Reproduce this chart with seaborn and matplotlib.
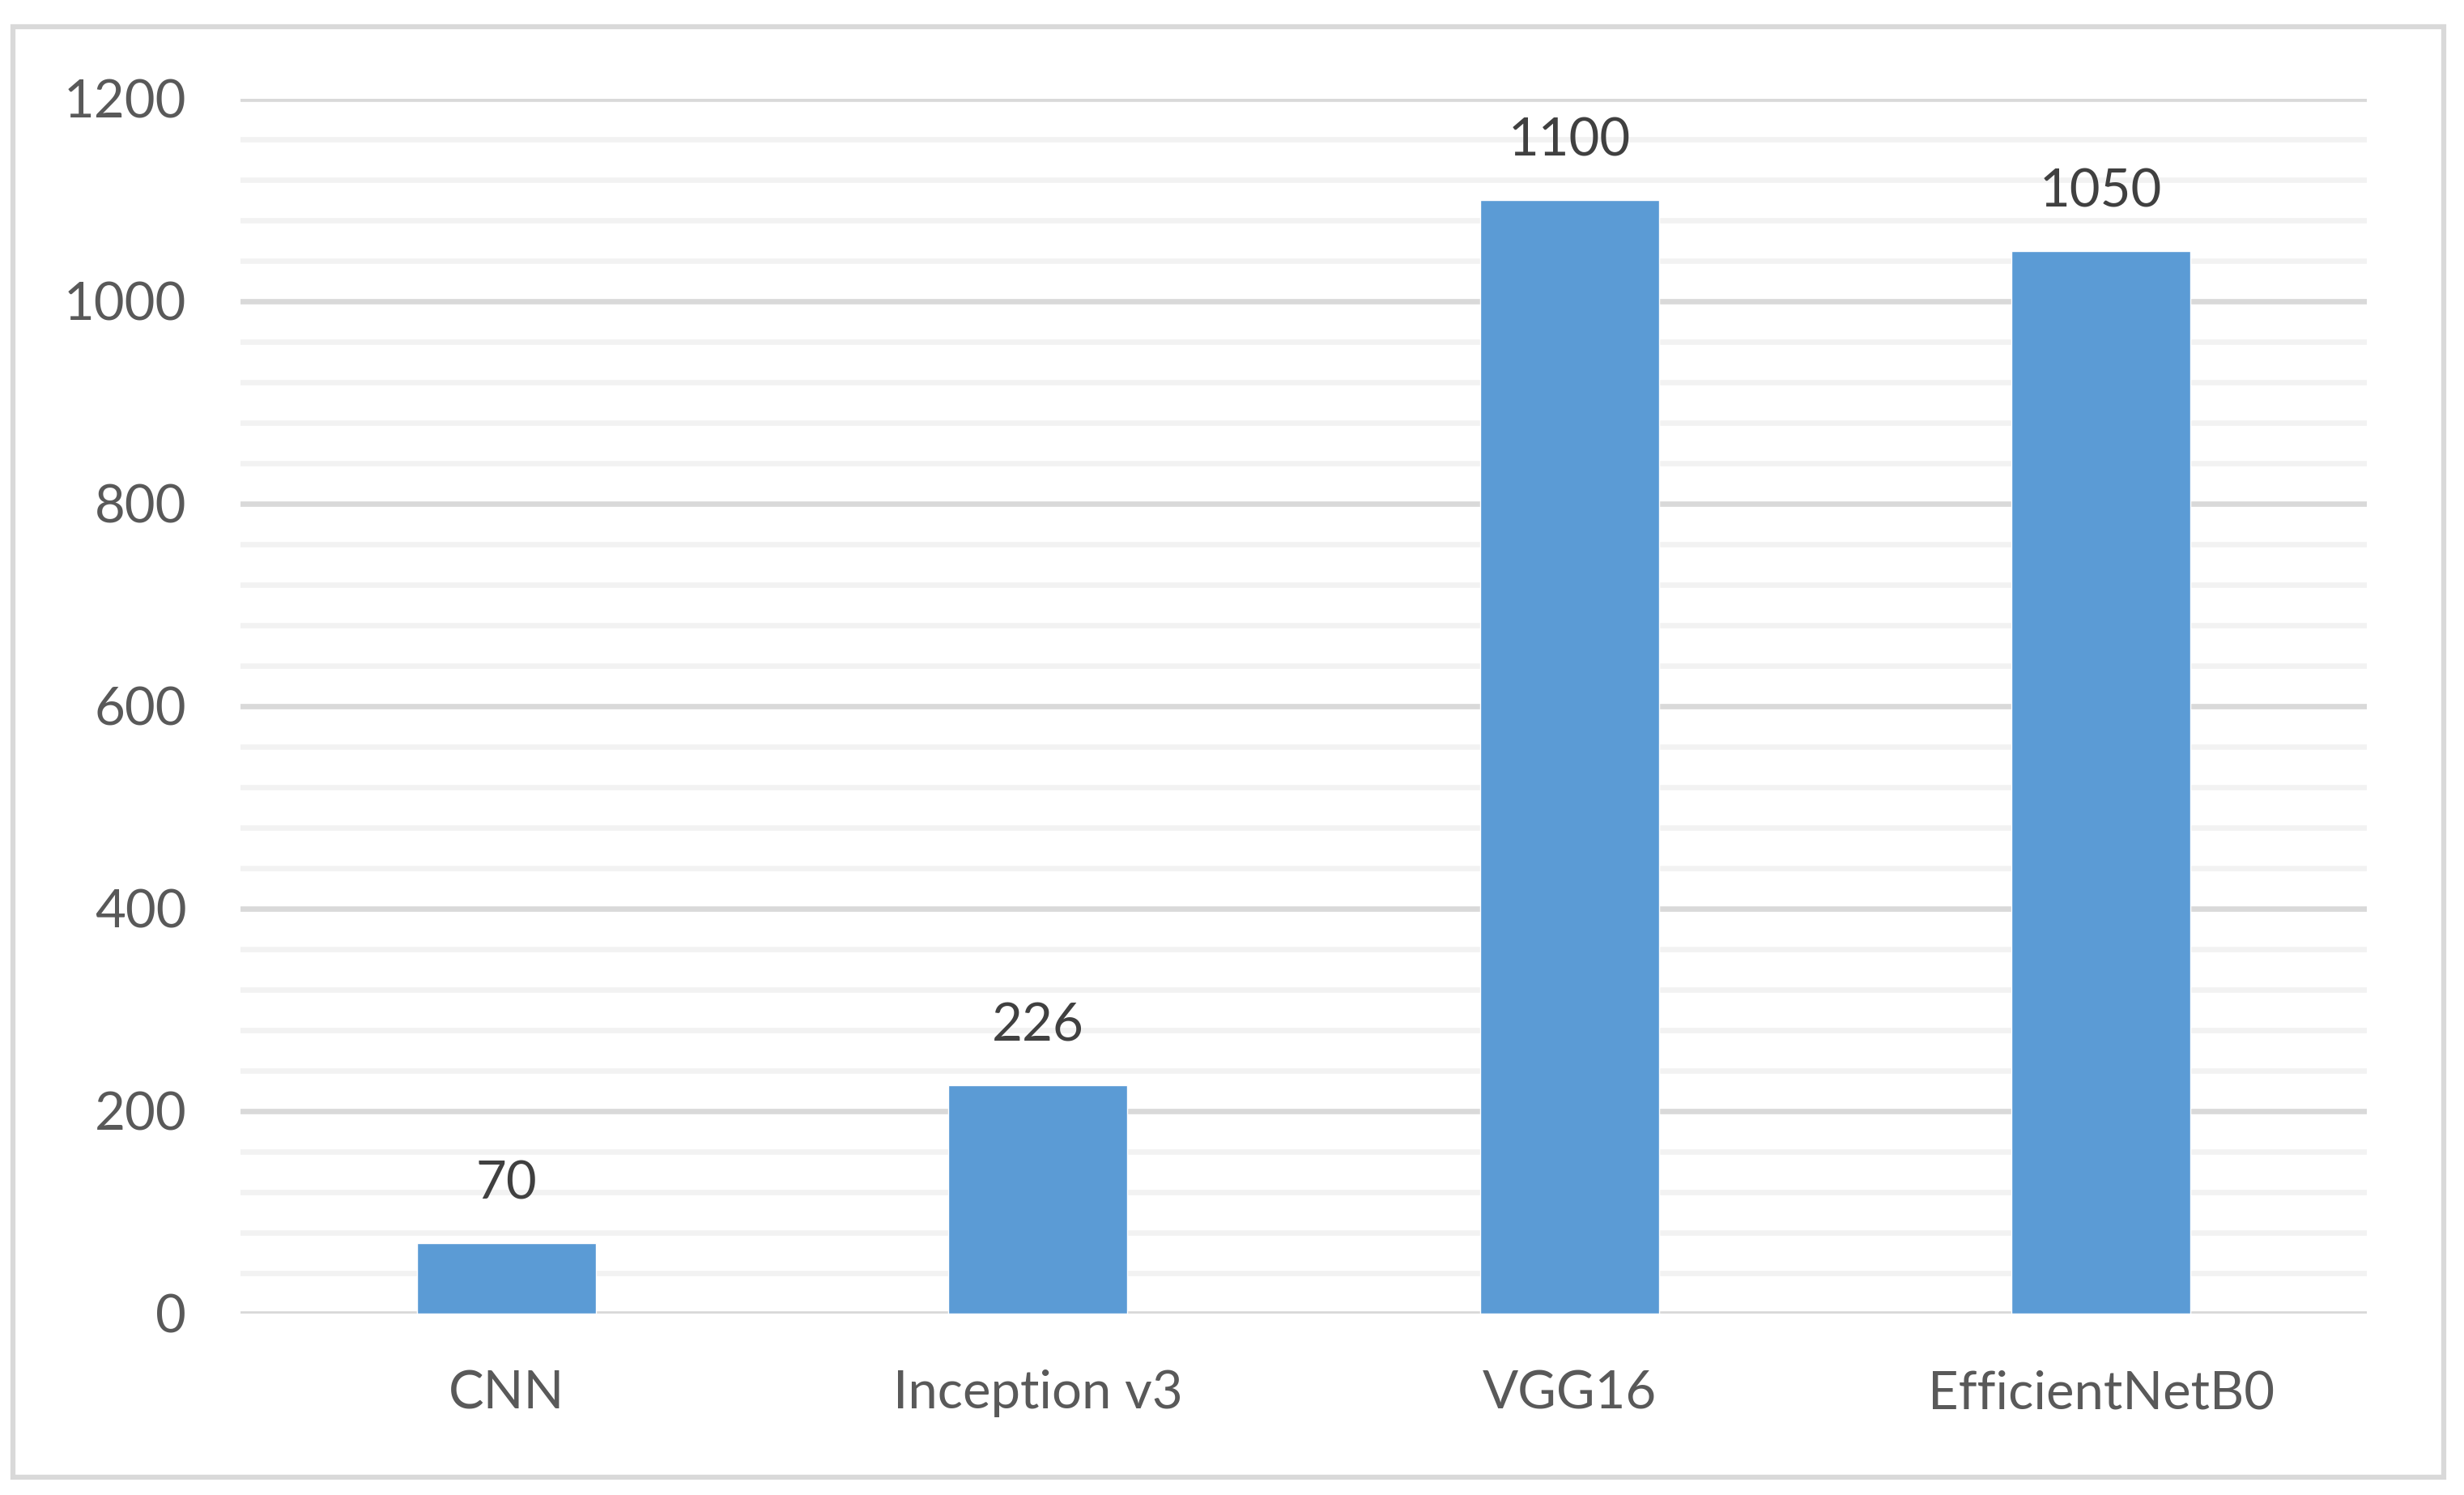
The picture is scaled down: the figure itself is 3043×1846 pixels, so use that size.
import pandas as pd
import matplotlib.pyplot as plt
import seaborn as sns
from matplotlib.patches import Rectangle
from matplotlib.ticker import MultipleLocator

# Values
models = ['CNN', 'Inception v3', 'VGG16', 'EfficientNetB0']
values = [70, 226, 1100, 1050]
y_ticks = [0, 200, 400, 600, 800, 1000, 1200]

df = pd.DataFrame({'model': models, 'value': values})

sns.set_style('white')
plt.rcParams['font.family'] = ['Lato', 'DejaVu Sans']

fig = plt.figure(figsize=(30.43, 18.46), dpi=100)
ax = fig.add_axes([297 / 3043, 1 - 1622 / 1846, (2923 - 297) / 3043, (1622 - 122) / 1846])

sns.barplot(data=df, x='model', y='value', color='#5B9BD5', width=0.337,
            saturation=1, ax=ax, zorder=3)

ax.set_ylim(0, 1200)
ax.set_xlim(-0.5, 3.5)
ax.set_yticks(y_ticks)
ax.yaxis.set_minor_locator(MultipleLocator(40))
ax.grid(axis='y', which='major', color='#D9D9D9', linewidth=4.8, zorder=0)
ax.grid(axis='y', which='minor', color='#F2F2F2', linewidth=4.8, zorder=0)
ax.grid(axis='x', visible=False)
ax.set_axisbelow(True)
for s in ax.spines.values():
    s.set_visible(False)
ax.set_xlabel('')
ax.set_ylabel('')
ax.tick_params(axis='y', which='both', length=0, pad=48, labelsize=47, labelcolor='#595959')
ax.tick_params(axis='x', length=0, pad=50, labelsize=47, labelcolor='#595959')

# Data labels above bars
for i, v in enumerate(values):
    ax.annotate(str(v), (i, v), xytext=(0, 31), textcoords='offset points',
                ha='center', va='bottom', fontsize=47, color='#404040')

# Chart border
fig.patches.append(Rectangle((16 / 3043, 1 - 1824 / 1846), (3018 - 16) / 3043, (1824 - 33) / 1846,
                             transform=fig.transFigure, fill=False,
                             edgecolor='#D9D9D9', linewidth=4.5))

fig.savefig('out.png', dpi=100, facecolor='white')
